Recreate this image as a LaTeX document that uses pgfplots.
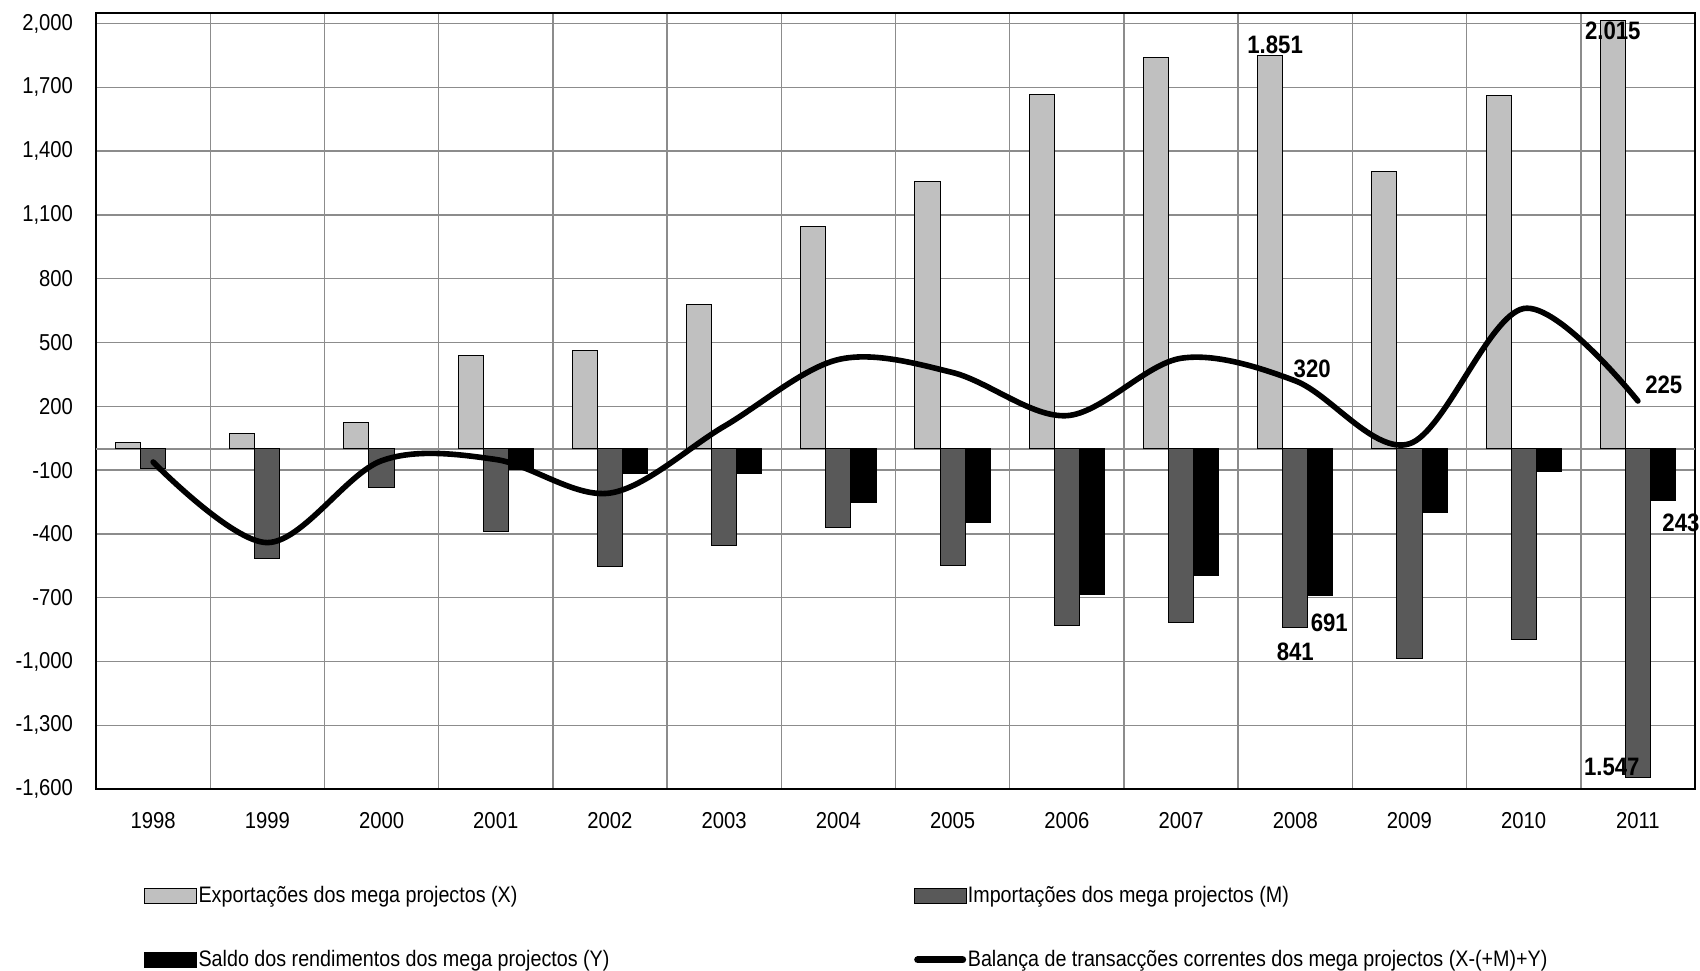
\documentclass[border=0pt]{standalone}
\usepackage{fontspec}
\setmainfont[FakeStretch=0.88]{Liberation Sans}
\usepackage{pgfplots}
\usepackage{pgfplotstable}
\pgfplotsset{compat=1.18}
\definecolor{xgray}{HTML}{C0C0C0}
\definecolor{mgray}{HTML}{595959}
\definecolor{gridgray}{HTML}{8C8C8C}
\newcommand{\fs}{\fontsize{11.5pt}{13pt}\selectfont}
\newcommand{\fg}{\fontsize{11.2pt}{13pt}\selectfont}
\newcommand{\fl}{\bfseries\fontsize{12.6pt}{14pt}\selectfont}

\pgfplotstableread{
x  X     M      Y     B
0  30    -92    nan   -62
1  74    -515   nan   -441
2  124   -180   nan   -56
3  437   -390   -97   -50
4  464   -555   -117  -208
5  677   -454   -117  106
6  1045  -371   -254  420
7  1258  -551   -348  359
8  1668  -829   -685  156
9  1839  -818   -595  426
10 1851  -841   -691  320
11 1306  -984   -298  24
12 1663  -898   -105  660
13 2015  -1547  -243  225
}\data

\begin{document}
\begin{tikzpicture}
\begin{axis}[
  at={(0,0)}, anchor=south west,
  scale only axis, width=799.5pt, height=388pt,
  xmin=-0.5, xmax=13.5, ymin=-1600, ymax=2050,
  clip=false,
  axis line style={black, line width=0.9pt},
  xtick={0,...,13},
  xticklabels={1998,1999,2000,2001,2002,2003,2004,2005,2006,2007,2008,2009,2010,2011},
  minor xtick={0.5,1.5,...,12.5},
  ytick={-1600,-1300,...,2000},
  extra y ticks={0}, extra y tick labels={},
  extra y tick style={grid=major},
  major tick length=0pt, minor tick length=0pt,
  ymajorgrids, xminorgrids,
  grid style={gridgray, line width=0.7pt},
  minor grid style={gridgray, line width=0.7pt},
  tick label style={font=\fs},
  yticklabel style={xshift=-8pt},
  xticklabel style={yshift=-8pt},
  /pgf/number format/.cd, 1000 sep={,}, assume math mode=true, /pgfplots/.cd,
  legend columns=2,
  legend cell align=left,
  legend style={draw=none, fill=none, at={(0,0)}, anchor=north west,
    xshift=24pt, yshift=-48pt, inner sep=0pt, font=\fg,
    nodes={inner sep=0.6pt},
    row sep=21pt,
    /tikz/every even column/.append style={column sep=151.5pt}},
]
\addplot[ybar, bar width=0.22, bar shift=-0.22, fill=xgray, draw=black, line width=0.5pt,
  legend image code/.code={\draw[fill=xgray, draw=black, line width=0.5pt] (0pt,-3.75pt) rectangle (26pt,3.75pt);}]
  table[x=x, y=X] {\data};
\addlegendentry{Exportações dos mega projectos (X)}
\addplot[ybar, bar width=0.22, bar shift=0, fill=mgray, draw=black, line width=0.5pt,
  legend image code/.code={\draw[fill=mgray, draw=black, line width=0.5pt] (0pt,-3.75pt) rectangle (26pt,3.75pt);}]
  table[x=x, y=M] {\data};
\addlegendentry{Importações dos mega projectos (M)}
\addplot[ybar, bar width=0.22, bar shift=0.22, fill=black, draw=black, line width=0.5pt,
  legend image code/.code={\draw[fill=black, draw=black, line width=0.5pt] (0pt,-3.75pt) rectangle (26pt,3.75pt);}]
  table[x=x, y=Y] {\data};
\addlegendentry{Saldo dos rendimentos dos mega projectos (Y)}
\addplot[black, line width=2.8pt, smooth, tension=0.55, mark=none, line cap=round,
  legend image code/.code={\draw[black, line width=3.6pt, line cap=round] (1.8pt,0pt) -- (24.2pt,0pt);}]
  table[x=x, y=B] {\data};
\addlegendentry{Balança de transacções correntes dos mega projectos (X-(+M)+Y)}

\node[font=\fl, anchor=south, inner sep=0.5pt, xshift=2.5pt] at (axis cs:9.78,1851) {1.851};
\node[font=\fl, anchor=north, inner sep=0.5pt] at (axis cs:12.78,2015) {2.015};
\node[font=\fl, anchor=south west, inner sep=0pt, xshift=-1pt, yshift=1.5pt] at (axis cs:10,320) {320};
\node[font=\fl, anchor=south west, inner sep=0pt, xshift=3.5pt, yshift=3.5pt] at (axis cs:13,225) {225};
\node[font=\fl, anchor=north west, inner sep=0pt, xshift=-5pt, yshift=-9pt] at (axis cs:10.22,-691) {691};
\node[font=\fl, anchor=north, inner sep=0pt, yshift=-7.5pt] at (axis cs:10,-841) {841};
\node[font=\fl, anchor=north west, inner sep=0pt, xshift=-0.5pt, yshift=-6.5pt] at (axis cs:13.22,-243) {243};
\node[font=\fl, anchor=south east, inner sep=0pt, xshift=1pt, yshift=1pt] at (axis cs:13,-1547) {1.547};
\end{axis}
\pgfresetboundingbox
\path[use as bounding box] (-48pt,-90.5pt) rectangle (802pt,394.5pt);
\end{tikzpicture}
\end{document}
